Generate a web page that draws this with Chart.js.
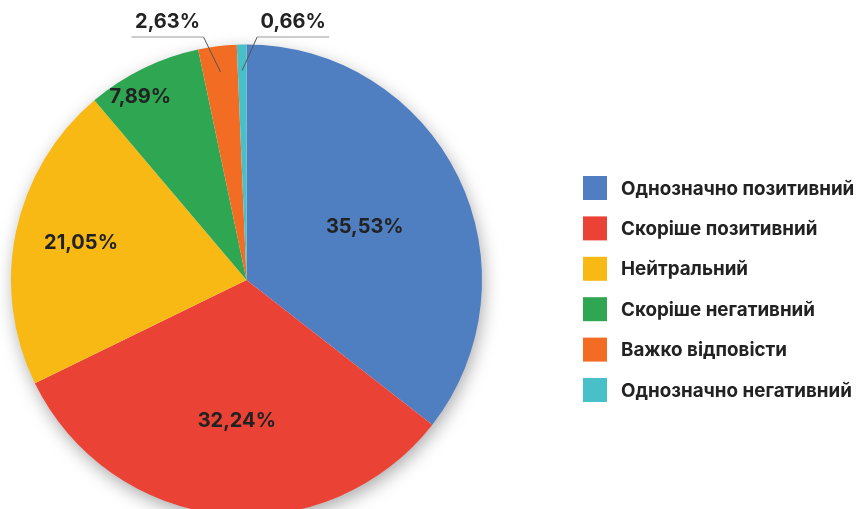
<!DOCTYPE html>
<html>
<head>
<meta charset="utf-8">
<script src="https://cdn.jsdelivr.net/npm/chart.js@4/dist/chart.umd.min.js"></script>
<style>
  html, body { margin: 0; padding: 0; background: #fff; overflow: hidden; }
  #wrap { width: 856px; height: 520px; }
</style>
</head>
<body>
<div id="wrap"><canvas id="pie" width="856" height="520"></canvas></div>
<script>
const categories = [
    'Однозначно позитивний',
    'Скоріше позитивний',
    'Нейтральний',
    'Скоріше негативний',
    'Важко відповісти',
    'Однозначно негативний'
];
const shares = [35.53, 32.24, 21.05, 7.89, 2.63, 0.66];
const colors = ['#4f7ec1', '#ea4335', '#f8b914', '#2ea652', '#f26c23', '#49c0c8'];

const TEXT = '#222222';
const FONT = 'Inter, "Noto Sans", sans-serif';

function fmt(v) {
    return v.toFixed(2).replace('.', ',') + '%';
}

// подписи внутри секторов: доля радиуса и поворот от середины сектора (в градусах)
const innerRadius = [0.55, 0.6, 0.72, 0.9];
const innerTurn = [2, -2, 0.7, -4];
// выноски для маленьких секторов: сдвиг излома и направление полки
const outerLeaders = {
    4: { dx: -17, dir: -1 },
    5: { dx: 15, dir: 1 }
};

const pieShadow = {
    id: 'pieShadow',
    beforeDatasetsDraw(chart) {
        const arc = chart.getDatasetMeta(0).data[0];
        if (!arc) return;
        const ctx = chart.ctx;
        ctx.save();
        ctx.shadowColor = 'rgba(0,0,0,0.35)';
        ctx.shadowBlur = 18;
        ctx.shadowOffsetX = 2;
        ctx.shadowOffsetY = 6;
        ctx.fillStyle = '#ffffff';
        ctx.beginPath();
        ctx.arc(arc.x, arc.y, arc.outerRadius - 1, 0, Math.PI * 2);
        ctx.fill();
        ctx.restore();
    }
};

const sliceLabels = {
    id: 'sliceLabels',
    afterDatasetsDraw(chart) {
        const ctx = chart.ctx;
        const meta = chart.getDatasetMeta(0);
        ctx.save();
        ctx.font = 'bold 20px ' + FONT;
        ctx.fillStyle = TEXT;
        ctx.textAlign = 'center';
        ctx.textBaseline = 'middle';
        meta.data.forEach((arc, i) => {
            const mid = (arc.startAngle + arc.endAngle) / 2;
            const text = fmt(shares[i]);
            if (outerLeaders[i]) {
                const o = outerLeaders[i];
                const r = arc.outerRadius * 0.89;
                const ax = arc.x + Math.cos(mid) * r;
                const ay = arc.y + Math.sin(mid) * r;
                const ex = ax + o.dx;
                const ey = 37;
                const fx = ex + o.dir * 72;
                ctx.strokeStyle = '#555';
                ctx.lineWidth = 1;
                ctx.beginPath();
                ctx.moveTo(ax, ay);
                ctx.lineTo(ex, ey);
                ctx.stroke();
                ctx.strokeStyle = '#9a9a9a';
                ctx.beginPath();
                ctx.moveTo(ex, ey);
                ctx.lineTo(fx, ey);
                ctx.stroke();
                ctx.fillText(text, (ex + fx) / 2, 22);
            } else {
                const a = mid + innerTurn[i] * Math.PI / 180;
                const r = arc.outerRadius * innerRadius[i];
                ctx.fillText(text, arc.x + Math.cos(a) * r, arc.y + Math.sin(a) * r);
            }
        });
        ctx.restore();
    }
};

const sideLegend = {
    id: 'sideLegend',
    afterDraw(chart) {
        const ctx = chart.ctx;
        ctx.save();
        ctx.font = 'bold 18.8px ' + FONT;
        ctx.textAlign = 'left';
        ctx.textBaseline = 'middle';
        categories.forEach((name, i) => {
            const y = 188 + i * 40.4;
            ctx.fillStyle = colors[i];
            ctx.fillRect(583, y - 12, 24, 24);
            ctx.fillStyle = TEXT;
            ctx.fillText(name, 621, y + 1);
        });
        ctx.restore();
    }
};

new Chart(document.getElementById('pie'), {
    type: 'pie',
    data: {
        labels: categories,
        datasets: [{
            data: shares,
            backgroundColor: colors,
            borderWidth: 0
        }]
    },
    options: {
        responsive: false,
        animation: false,
        devicePixelRatio: 1,
        layout: { padding: { left: 11, right: 374, top: 44, bottom: 4 } },
        plugins: {
            legend: { display: false },
            tooltip: { enabled: false }
        }
    },
    plugins: [pieShadow, sliceLabels, sideLegend]
});
</script>
</body>
</html>
